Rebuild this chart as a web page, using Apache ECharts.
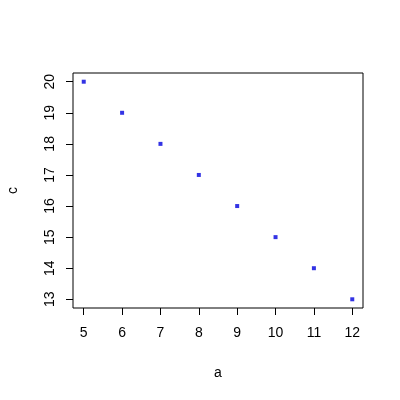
<!DOCTYPE html>
<html><head><meta charset="utf-8">
<script src="https://cdn.jsdelivr.net/npm/echarts@6/dist/echarts.min.js"></script>
<style>html,body{margin:0;padding:0;background:#fff}#c{width:400px;height:400px}</style>
</head><body><div id="c"></div>
<script>
var aValues = [5, 6, 7, 8, 9, 10, 11, 12];
var cValues = [20, 19, 18, 17, 16, 15, 14, 13];
var xTicks = [5, 6, 7, 8, 9, 10, 11, 12];
var yTicks = [13, 14, 15, 16, 17, 18, 19, 20];
var xTitle = 'a';
var yTitle = 'c';

var pts = aValues.map(function (v, i) { return [v, cValues[i]]; });
var font = 'Liberation Sans, Arial, sans-serif';
var chart = echarts.init(document.getElementById('c'), null, {renderer: 'canvas'});
chart.setOption({
  animation: false,
  backgroundColor: '#fff',
  grid: {left: 73, right: 37, top: 73, bottom: 92, outerBoundsMode: 'none', containLabel: false, show: true, borderColor: '#000', borderWidth: 1, backgroundColor: 'transparent'},
  xAxis: {
    type: 'value', min: 4.72, max: 12.28,
    name: xTitle, nameLocation: 'middle', nameGap: 58,
    nameTextStyle: {color: '#000', fontSize: 14, fontFamily: font},
    axisLine: {show: false},
    splitLine: {show: false},
    axisTick: {show: true, length: 7, inside: false, customValues: xTicks, lineStyle: {color: '#000', width: 1}},
    axisLabel: {customValues: xTicks, color: '#000', fontSize: 14, fontFamily: font, margin: 18}
  },
  yAxis: {
    type: 'value', min: 12.72, max: 20.28,
    name: yTitle, nameLocation: 'middle', nameGap: 53, nameRotate: 90,
    nameTextStyle: {color: '#000', fontSize: 14, fontFamily: font},
    axisLine: {show: false},
    splitLine: {show: false},
    axisTick: {show: true, length: 7, inside: false, customValues: yTicks, lineStyle: {color: '#000', width: 1}},
    axisLabel: {customValues: yTicks, color: '#000', fontSize: 14, fontFamily: font, rotate: 90, margin: 16}
  },
  series: [{
    type: 'scatter', data: pts, symbol: 'rect', symbolSize: 4,
    itemStyle: {color: '#0000DD'}
  }]
});
</script></body></html>
